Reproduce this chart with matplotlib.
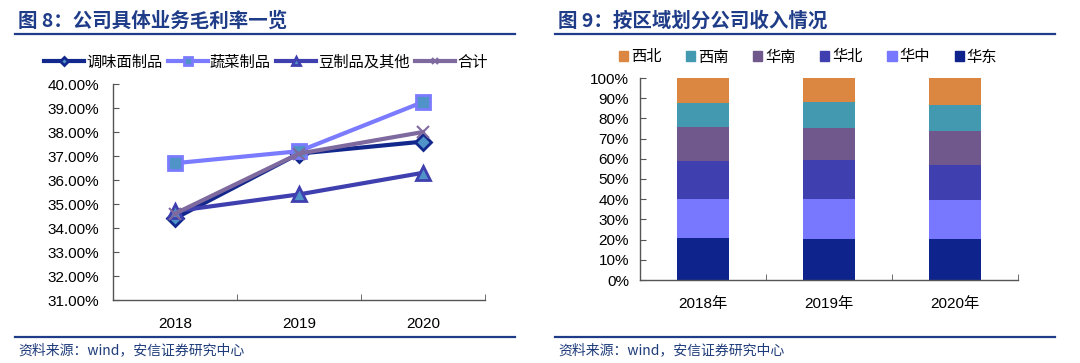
import matplotlib
matplotlib.use("Agg")
import matplotlib.pyplot as plt
import numpy as np
from matplotlib.lines import Line2D
from matplotlib.patches import Patch

plt.rcParams['font.family'] = ['Liberation Sans', 'Noto Sans CJK SC', 'DejaVu Sans']

# ---------------- data ----------------
years = ['2018', '2019', '2020']
seasoning = [34.4, 37.1, 37.6]      # 调味面制品
vegetable = [36.7, 37.2, 39.25]     # 蔬菜制品
bean = [34.7, 35.4, 36.3]           # 豆制品及其他
total = [34.6, 37.1, 38.0]          # 合计
left_yticks = [31, 32, 33, 34, 35, 36, 37, 38, 39, 40]

year_labels = ['2018年', '2019年', '2020年']
region_names = ['华东', '华中', '华北', '华南', '西南', '西北']
east = [20.6, 20.1, 20.1]
central = [19.4, 19.9, 19.5]
north = [19.1, 19.2, 17.5]
south = [16.8, 16.2, 16.8]
southwest = [11.6, 12.6, 12.7]
northwest = [12.5, 12.0, 13.4]
right_yticks = [0, 10, 20, 30, 40, 50, 60, 70, 80, 90, 100]

W, H = 1080, 363
fig = plt.figure(figsize=(W / 100, H / 100), dpi=100)

def px_axes(l, t, r, b):
    return fig.add_axes([l / W, 1 - b / H, (r - l) / W, (b - t) / H])

title_color = '#1F3C88'
src_color = '#1F3C7A'

# titles, rules, sources
for x0, x1, title in [(15, 515, '图 8：公司具体业务毛利率一览'), (555, 1055, '图 9：按区域划分公司收入情况')]:
    fig.text((x0 + 3) / W, 1 - 21 / H, title, fontsize=14, fontweight='bold',
             color=title_color, va='center', ha='left',
             family=['Noto Sans CJK SC', 'DejaVu Sans'])
    fig.add_artist(Line2D([x0 / W, x1 / W], [1 - 34 / H, 1 - 34 / H], color=title_color, lw=1.6))
    fig.add_artist(Line2D([x0 / W, x1 / W], [1 - 337 / H, 1 - 337 / H], color=title_color, lw=1.6))
    fig.text((x0 + 3) / W, 1 - 350 / H, '资料来源：wind，安信证券研究中心', fontsize=10,
             color=src_color, va='center', ha='left', fontstyle='italic',
             family=['Noto Sans CJK SC', 'DejaVu Sans'])

# ---------------- left chart ----------------
ax = px_axes(113, 84, 485, 300)
x = np.arange(len(years))
series = [
    ('调味面制品', seasoning, '#13288C', 'D', 8),
    ('蔬菜制品', vegetable, '#7B7BFF', 's', 10),
    ('豆制品及其他', bean, '#3F3FB0', '^', 10),
    ('合计', total, '#7F6A9F', 'x', 9),
]
handles = []
for name, vals, col, mk, ms in series:
    if mk == 'x':
        ln, = ax.plot(x, vals, color=col, lw=3, marker=mk, ms=ms, mew=1.5, mec=col, label=name, zorder=4)
    else:
        ln, = ax.plot(x, vals, color=col, lw=3, marker=mk, ms=ms, mfc='#4F93C8', mec=col, mew=2, label=name, zorder=3)
    handles.append(ln)
ax.set_xlim(-0.5, 2.5)
ax.set_ylim(31, 40)
ax.set_yticks(left_yticks)
ax.set_yticklabels(['{:.2f}%'.format(v) for v in left_yticks], fontsize=11)
ax.set_xticks(x)
ax.set_xticklabels(years, fontsize=11)
ax.set_xticks([0.5, 1.5, 2.5], minor=True)
ax.tick_params(axis='x', which='major', length=0, pad=12)
ax.tick_params(axis='x', which='minor', direction='in', length=4, color='#555555')
ax.tick_params(axis='y', direction='in', length=4, color='#555555', pad=10)
for s in ['top', 'right']:
    ax.spines[s].set_visible(False)
for s in ['left', 'bottom']:
    ax.spines[s].set_color('#555555')
    ax.spines[s].set_linewidth(1)
fig.legend(handles=handles, loc='center', bbox_to_anchor=(266 / W, 1 - 62 / H), ncol=4,
           frameon=False, handlelength=2.6, handletextpad=0.15, markerscale=0.55,
           columnspacing=0.35, prop={'family': ['Noto Sans CJK SC'], 'size': 11})

# ---------------- right chart ----------------
ax2 = px_axes(640, 78, 1018, 280)
colors = ['#0F238C', '#7878FF', '#3F3FAF', '#70578C', '#4299B0', '#DB8641']
stack = [east, central, north, south, southwest, northwest]
bottom = np.zeros(len(year_labels))
for name, vals, col in zip(region_names, stack, colors):
    ax2.bar(np.arange(len(year_labels)), vals, 0.41, bottom=bottom, color=col, label=name)
    bottom += np.array(vals)
ax2.set_xlim(-0.5, 2.5)
ax2.set_ylim(0, 100)
ax2.set_yticks(right_yticks)
ax2.set_yticklabels(['{}%'.format(v) for v in right_yticks], fontsize=11)
ax2.set_xticks(np.arange(len(year_labels)))
ax2.set_xticklabels(year_labels, fontsize=11)
ax2.set_xticks([0.5, 1.5, 2.5], minor=True)
ax2.tick_params(axis='x', which='major', length=0, pad=12)
ax2.tick_params(axis='x', which='minor', direction='in', length=4, color='#555555')
ax2.tick_params(axis='y', direction='in', length=4, color='#555555', pad=8)
for s in ['top', 'right']:
    ax2.spines[s].set_visible(False)
for s in ['left', 'bottom']:
    ax2.spines[s].set_color('#555555')
    ax2.spines[s].set_linewidth(1)
leg_handles = [Patch(color=c) for c in colors][::-1]
leg_labels = region_names[::-1]
fig.legend(handles=leg_handles, labels=leg_labels, loc='center', bbox_to_anchor=(808 / W, 1 - 57 / H),
           ncol=6, frameon=False, handlelength=0.6, handleheight=0.6, handletextpad=0.2,
           columnspacing=1.6, prop={'family': ['Noto Sans CJK SC'], 'size': 11})

fig.savefig('out.png', dpi=100, facecolor='white')
